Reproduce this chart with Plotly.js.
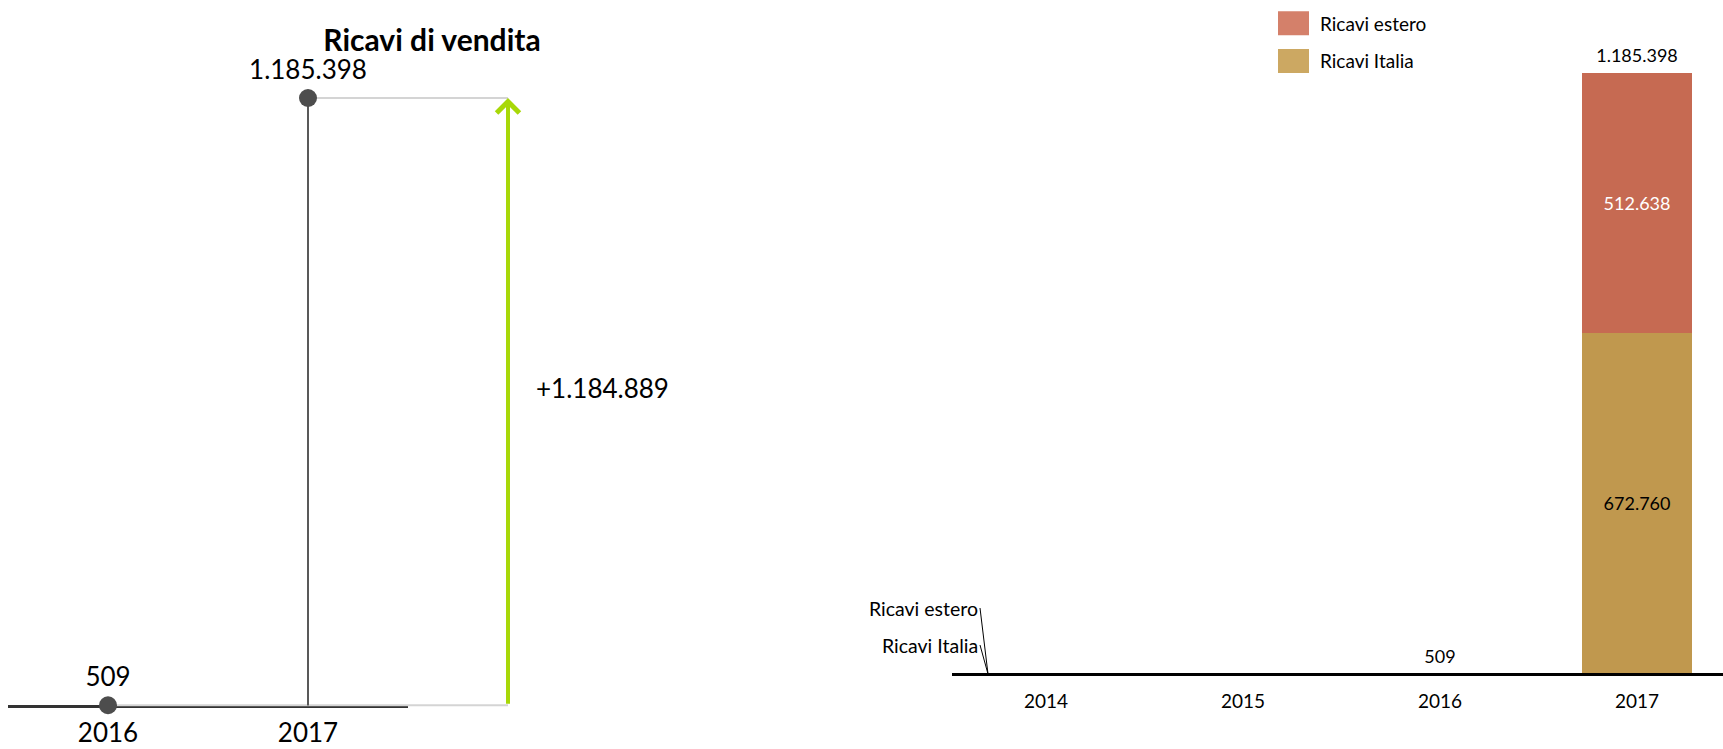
<!DOCTYPE html>
<html>
<head>
<meta charset="utf-8">
<script src="https://cdn.plot.ly/plotly-3.0.1.min.js"></script>
<style>
  html, body { margin: 0; padding: 0; background: #ffffff; }
  #chart { width: 1723px; height: 749px; }
</style>
</head>
<body>
<div id="chart"></div>
<script>
// ---------- DATA ----------
// Grafico a sinistra (confronto 2016 - 2017)
const anniSx = ['2016', '2017'];
const ricaviSx = [509, 1185398];
const slotVariazione = 'variazione';

// Grafico a destra (barre impilate)
const anniDx = ['2014', '2015', '2016', '2017'];
const ricaviItalia = [0, 0, 509, 672760];
const ricaviEstero = [0, 0, 0, 512638];
const totali = [null, null, 509, 1185398];

const nomeItalia = 'Ricavi Italia';
const nomeEstero = 'Ricavi estero';
const titolo = 'Ricavi di vendita';

// ---------- HELPERS ----------
const W = 1723, H = 749;
const FONT = 'Lato, "Open Sans", sans-serif';
const fmt = v => Math.round(v).toString().replace(/\B(?=(\d{3})+(?!\d))/g, '.');
// y range so that value 0 sits at pixel px0 and value vT at pixel pxT (from top)
function yRange(px0, pxT, vT) {
  const k = vT / (px0 - pxT);
  return [-(H - px0) * k, px0 * k];
}
function catRange(pxLeft, pxRight, pxFirst, step) {
  return [(pxLeft - pxFirst) / step, (pxRight - pxFirst) / step];
}

const colItalia = '#C0984E', colEstero = '#C66A52';
const legItalia = '#CCA862', legEstero = '#D4806A';

const v0 = ricaviSx[0], v1 = ricaviSx[ricaviSx.length - 1];
const idxPrimoAnno = anniDx.indexOf(anniDx[0]); // serial index of first category

// ---------- TRACES ----------
// invisible trace that carries the visible category axis of the left chart
const asseSx = {
  type: 'scatter', mode: 'none',
  x: anniSx, y: ricaviSx,
  xaxis: 'x', yaxis: 'y',
  showlegend: false, hoverinfo: 'skip'
};

const connettori = {
  type: 'scatter', mode: 'lines',
  x: [anniSx[0], slotVariazione, null, anniSx[1], slotVariazione],
  y: [v0, v0, null, v1, v1],
  xaxis: 'x3', yaxis: 'y',
  line: { color: '#d4d4d4', width: 2 },
  showlegend: false, hoverinfo: 'skip'
};

const lollipop = {
  type: 'scatter', mode: 'markers+text',
  x: anniSx, y: ricaviSx,
  xaxis: 'x3', yaxis: 'y',
  marker: { size: 18, color: '#4d4d4d' },
  text: ricaviSx.map(fmt),
  textposition: 'top center',
  textfont: { family: FONT, size: 26, color: '#000' },
  error_y: {
    type: 'data', symmetric: false,
    array: ricaviSx.map(() => 0), arrayminus: ricaviSx,
    width: 0, thickness: 2, color: '#595959'
  },
  cliponaxis: false, showlegend: false, hoverinfo: 'x+y'
};

const barItalia = {
  type: 'bar', name: nomeItalia, legendgroup: 'it', legendrank: 2,
  x: anniDx, y: ricaviItalia,
  xaxis: 'x2', yaxis: 'y2',
  marker: { color: colItalia },
  texttemplate: '%{y:,.0f}',
  textposition: 'inside', insidetextanchor: 'middle', textangle: 0,
  insidetextfont: { family: FONT, size: 18, color: '#000' },
  width: 0.56
};
const barEstero = {
  type: 'bar', name: nomeEstero, legendgroup: 'es', legendrank: 1,
  x: anniDx, y: ricaviEstero,
  xaxis: 'x2', yaxis: 'y2',
  marker: { color: colEstero },
  texttemplate: '%{y:,.0f}',
  textposition: 'inside', insidetextanchor: 'middle', textangle: 0,
  insidetextfont: { family: FONT, size: 18, color: '#fff' },
  width: 0.56
};
const etichetteTotali = {
  type: 'scatter', mode: 'markers+text',
  x: anniDx, y: totali,
  xaxis: 'x2', yaxis: 'y2',
  marker: { size: 8, opacity: 0 },
  text: totali.map(v => v == null ? '' : fmt(v)),
  textposition: 'top center',
  textfont: { family: FONT, size: 18, color: '#000' },
  cliponaxis: false, showlegend: false, hoverinfo: 'skip'
};

// ---------- LAYOUT ----------
const layout = {
  width: W, height: H,
  margin: { l: 0, r: 0, t: 0, b: 0, pad: 0 },
  paper_bgcolor: '#ffffff', plot_bgcolor: 'rgba(0,0,0,0)',
  separators: ',.',
  barmode: 'stack',
  font: { family: FONT, color: '#000' },
  uniformtext: { mode: 'hide', minsize: 14 },
  title: {
    text: titolo,
    font: { family: FONT, size: 30, weight: 700, color: '#000' },
    x: 432 / W, xanchor: 'center', xref: 'paper',
    y: 1 - 40 / H, yanchor: 'middle', yref: 'paper'
  },
  xaxis: {
    type: 'category', domain: [8 / W, 408 / W], range: [-0.5, 1.5],
    anchor: 'free', position: 1 - 705.5 / H,
    showline: true, linecolor: '#333333', linewidth: 3,
    showgrid: false, zeroline: false, ticks: '',
    tickfont: { family: FONT, size: 26, color: '#000' },
    ticklabelstandoff: 3, fixedrange: true
  },
  xaxis3: {
    type: 'category', categoryorder: 'array',
    categoryarray: anniSx.concat([slotVariazione]),
    domain: [8 / W, 608 / W], range: [-0.5, 2.5],
    anchor: 'y', visible: false, fixedrange: true
  },
  yaxis: {
    domain: [0, 1], range: yRange(705.5, 98, v1),
    anchor: 'x', visible: false, fixedrange: true
  },
  xaxis2: {
    type: 'category', domain: [952 / W, 1],
    range: catRange(952, W, 1046, 197),
    anchor: 'free', position: 1 - 674 / H,
    showline: true, linecolor: '#000', linewidth: 3,
    showgrid: false, zeroline: false, ticks: '',
    tickfont: { family: FONT, size: 19, color: '#000' },
    ticklabelstandoff: 9, fixedrange: true
  },
  yaxis2: {
    domain: [0, 1], range: yRange(674, 72.5, Math.max(...totali.filter(v => v != null))),
    anchor: 'x2', visible: false, fixedrange: true
  },
  legend: {
    x: 1274 / W, xanchor: 'left', y: 1 - 4.5 / H, yanchor: 'top',
    font: { family: FONT, size: 19, color: '#000' },
    traceorder: 'grouped', tracegroupgap: 10,
    itemwidth: 36, bgcolor: 'rgba(0,0,0,0)'
  },
  annotations: [
    {
      xref: 'x3', yref: 'y', x: slotVariazione, y: v1,
      axref: 'x3', ayref: 'y', ax: slotVariazione, ay: v0,
      text: '', showarrow: true, arrowhead: 4, arrowsize: 1.1,
      arrowwidth: 4, arrowcolor: '#A8D808', standoff: 0, startstandoff: 0
    },
    {
      xref: 'x3', yref: 'y', x: slotVariazione, y: (v0 + v1) / 2,
      text: '+' + fmt(v1 - v0), showarrow: false,
      xanchor: 'left', yanchor: 'middle', xshift: 26, yshift: 14,
      font: { family: FONT, size: 26, color: '#000' }
    },
    {
      xref: 'x2', yref: 'y2', x: idxPrimoAnno, y: 0, xshift: -58,
      text: nomeEstero, showarrow: true, arrowhead: 0, arrowwidth: 1,
      arrowcolor: '#000', ax: -8, ay: -66, standoff: 0,
      xanchor: 'right', yanchor: 'middle',
      font: { family: FONT, size: 19.5, color: '#000' }
    },
    {
      xref: 'x2', yref: 'y2', x: idxPrimoAnno, y: 0, xshift: -58,
      text: nomeItalia, showarrow: true, arrowhead: 0, arrowwidth: 1,
      arrowcolor: '#000', ax: -8, ay: -29, standoff: 0,
      xanchor: 'right', yanchor: 'middle',
      font: { family: FONT, size: 19.5, color: '#000' }
    }
  ]
};

const legCols = {}; legCols[nomeItalia] = legItalia; legCols[nomeEstero] = legEstero;
function allargaSimboliLegenda() {
  // enlarge legend swatches to match the reference's wide rectangles
  const gd = document.getElementById('chart');
  gd.querySelectorAll('g.legend g.traces').forEach(tr => {
    const t = tr.querySelector('.legendtext');
    const name = t ? t.textContent : '';
    tr.querySelectorAll('g.legendpoints path').forEach(p => {
      p.setAttribute('d', 'M12,12H-19V-12H12Z');
      if (legCols[name]) p.style.fill = legCols[name];
    });
  });
}

Plotly.newPlot('chart', [asseSx, connettori, lollipop, barItalia, barEstero, etichetteTotali], layout,
  { displayModeBar: false, responsive: false }
).then(gd => {
  allargaSimboliLegenda();
  gd.on('plotly_afterplot', allargaSimboliLegenda);
  setTimeout(allargaSimboliLegenda, 50);
  setTimeout(allargaSimboliLegenda, 300);
});
</script>
</body>
</html>
